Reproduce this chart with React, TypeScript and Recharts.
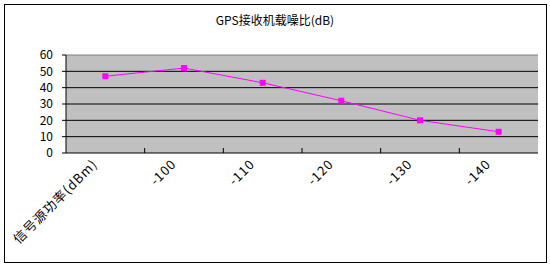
import React from "react";
import { CartesianGrid, Line, LineChart, ReferenceLine, XAxis, YAxis } from "recharts";

const categories = ["信号源功率(dBm)", "-100", "-110", "-120", "-130", "-140"];
const cnrValues = [47, 52, 43, 32, 20, 13];
const yTicks = [0, 10, 20, 30, 40, 50, 60];

const rows = categories.map((c, i) => ({ name: c, cnr: cnrValues[i] }));

const FONT = "'Noto Sans CJK SC', 'DejaVu Sans', sans-serif";
const BAND = (538 - 66) / categories.length;

function CategoryTick(props: any) {
  const { x, y, payload, index } = props;
  const tx = x - 7;
  const ty = y + 12;
  return (
    <g>
      {index > 0 && (
        <line x1={x - BAND / 2} x2={x - BAND / 2} y1={y - 5} y2={y} stroke="#000" />
      )}
      <text
        x={tx}
        y={ty}
        transform={`rotate(-45 ${tx} ${ty})`}
        textAnchor="end"
        fontSize={13}
        letterSpacing={1}
        fontFamily={FONT}
        fill="#000"
      >
        {payload.value}
      </text>
    </g>
  );
}

function SquareDot(props: any) {
  const { cx, cy } = props;
  if (cx == null || cy == null) return null;
  return <rect x={cx - 3} y={cy - 3} width={6} height={6} fill="#FF00FF" />;
}

export default function App() {
  return (
    <div style={{ position: "absolute", left: 0, top: 0, width: 550, height: 265, background: "#fff" }}>
      <div
        style={{
          position: "absolute",
          left: 4,
          top: 4,
          width: 541,
          height: 257,
          border: "1px solid #000",
        }}
      />
      <div
        style={{
          position: "absolute",
          left: 0,
          top: 11,
          width: 550,
          textAlign: "center",
          fontFamily: FONT,
          fontSize: 12,
        }}
      >
        GPS接收机载噪比(dB)
      </div>
      <div style={{ position: "absolute", left: 0, top: 0 }}>
        <LineChart
          width={550}
          height={265}
          data={rows}
          margin={{ top: 55, right: 12, bottom: 12, left: 16 }}
        >
          <CartesianGrid
            fill="#C0C0C0"
            stroke="#000"
            vertical={false}
            horizontalValues={[10, 20, 30, 40, 50]}
          />
          <ReferenceLine y={60} stroke="#808080" />
          <XAxis
            dataKey="name"
            height={100}
            interval={0}
            tickSize={0}
            tickMargin={0}
            padding={{ left: BAND / 2, right: BAND / 2 }}
            axisLine={{ stroke: "#000" }}
            tick={<CategoryTick />}
          />
          <YAxis
            domain={[0, 60]}
            ticks={yTicks}
            interval={0}
            width={50}
            tickSize={4}
            tickMargin={9}
            axisLine={{ stroke: "#000" }}
            tickLine={{ stroke: "#000" }}
            tick={{ fontSize: 12, fill: "#000", fontFamily: FONT }}
          />
          <YAxis
            yAxisId="right"
            orientation="right"
            width={0}
            tick={false}
            tickLine={false}
            axisLine={{ stroke: "#808080" }}
          />
          <Line
            dataKey="cnr"
            stroke="#FF00FF"
            strokeWidth={1}
            dot={<SquareDot />}
            activeDot={false}
            isAnimationActive={false}
          />
        </LineChart>
      </div>
    </div>
  );
}
